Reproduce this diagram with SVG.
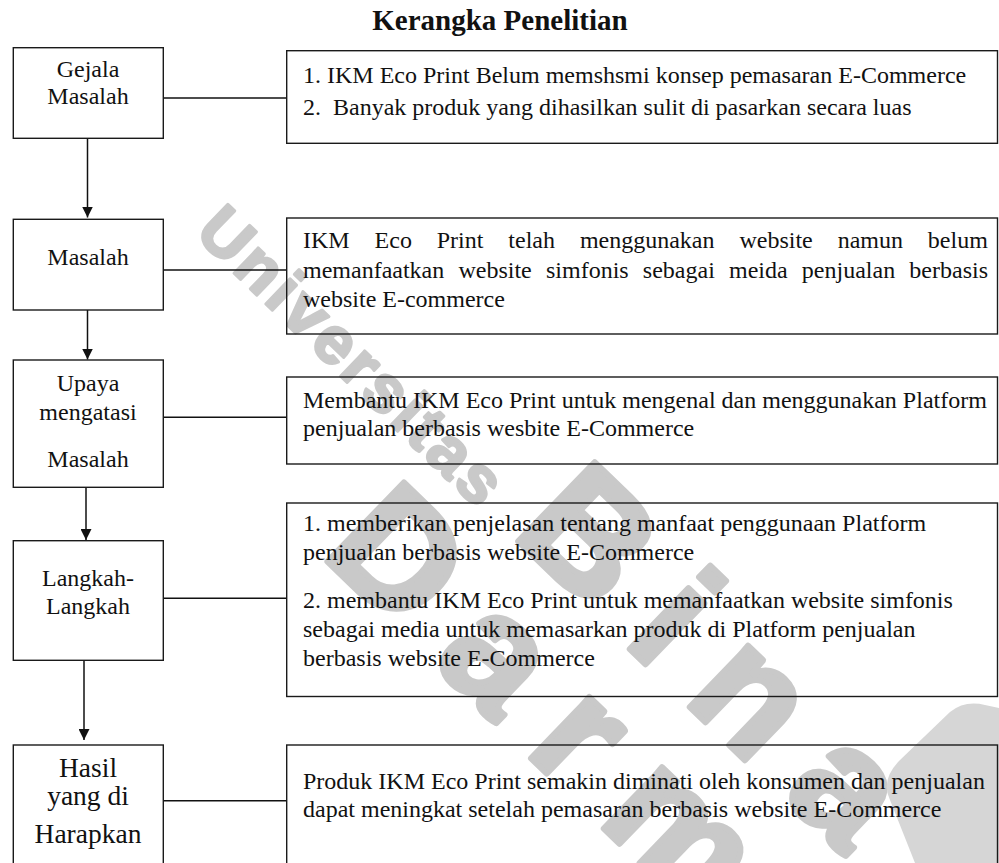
<svg xmlns="http://www.w3.org/2000/svg" width="999" height="863" viewBox="0 0 999 863">
<style>
.bg{fill:#ffffff}
.box{fill:none;stroke:#1a1a1a;stroke-width:1.4}
.t{font-family:"Liberation Serif","Times New Roman",serif;font-size:24px;fill:#111111}
.c{text-anchor:middle}
.big{font-size:27.5px}
.title{font-family:"Liberation Serif","Times New Roman",serif;font-size:29px;font-weight:bold;fill:#111111;text-anchor:middle}
.conn{stroke:#111111;stroke-width:1.5;fill:none}
.wm{font-family:"Liberation Sans",Arial,sans-serif;font-weight:bold;fill:#c9c9c9;stroke:#c9c9c9;stroke-linejoin:round;stroke-linecap:round}
</style>
<defs>
<marker id="ah" viewBox="0 0 10 10" refX="10" refY="5" markerWidth="11" markerHeight="11" markerUnits="userSpaceOnUse" orient="auto">
<path d="M0,0 L10,5 L0,10 Z" fill="#111111"/>
</marker>
</defs>
<rect class="bg" x="0" y="0" width="999" height="863"/>

<g id="watermark">
<text class="wm" transform="translate(193.5,234.2) rotate(44)" x="0" y="0" font-size="66" letter-spacing="4" stroke-width="3">Universitas</text>
<text class="wm" transform="translate(510.6,534) rotate(44)" x="0" y="0" font-size="160" letter-spacing="39" stroke-width="6">Bina</text>
<text class="wm" transform="translate(319.7,554.2) rotate(44)" x="0" y="0" font-size="160" letter-spacing="39" stroke-width="6">Darma</text>
<path d="M890 800 Q880 780 900 760 L950 712 Q965 700 985 705 L999 708 L999 863 L915 863 Z" fill="#d6d6d6"/>
</g>

<text class="title" x="500" y="30">Kerangka Penelitian</text>

<g id="connectors">
<path class="conn" d="M87.5 138.3 V217.5" marker-end="url(#ah)"/>
<path class="conn" d="M87.5 310 V359.5" marker-end="url(#ah)"/>
<path class="conn" d="M86 487.3 V540" marker-end="url(#ah)"/>
<path class="conn" d="M84 660.3 V740" marker-end="url(#ah)"/>
<path class="conn" d="M163.3 98 H286.7"/>
<path class="conn" d="M163.3 270 H286.7"/>
<path class="conn" d="M163.3 417.3 H286.7"/>
<path class="conn" d="M163.3 598.3 H286.7"/>
<path class="conn" d="M163.3 800.7 H286.7"/>
</g>

<g id="gejala-masalah">
<rect class="box" x="13.3" y="47.7" width="150" height="90.6"/>
<text class="t c" x="88" y="77">Gejala</text>
<text class="t c" x="88" y="104">Masalah</text>
</g>
<g id="gejala-masalah-isi">
<rect class="box" x="286.7" y="50.7" width="710.8" height="92.6"/>
<text class="t" x="303" y="83">1. IKM Eco Print Belum memshsmi konsep pemasaran E-Commerce</text>
<text class="t" x="303" y="115" xml:space="preserve">2.  Banyak produk yang dihasilkan sulit di pasarkan secara luas</text>
</g>

<g id="masalah">
<rect class="box" x="13.3" y="219.3" width="150" height="90.7"/>
<text class="t c" x="88" y="265">Masalah</text>
</g>
<g id="masalah-isi">
<rect class="box" x="286.7" y="218" width="710.8" height="116"/>
<text class="t" x="303" y="248" word-spacing="18.9">IKM Eco Print telah menggunakan website namun belum</text>
<text class="t" x="303" y="278" word-spacing="8.2">memanfaatkan website simfonis sebagai meida penjualan berbasis</text>
<text class="t" x="303" y="307">website E-commerce</text>
</g>

<g id="upaya">
<rect class="box" x="13.3" y="360" width="150" height="127.3"/>
<text class="t c" x="88" y="391">Upaya</text>
<text class="t c" x="88" y="420">mengatasi</text>
<text class="t c" x="88" y="467">Masalah</text>
</g>
<g id="upaya-isi">
<rect class="box" x="286.7" y="377" width="710.8" height="87"/>
<text class="t" x="303" y="408">Membantu IKM Eco Print untuk mengenal dan menggunakan Platform</text>
<text class="t" x="303" y="436">penjualan berbasis wesbite E-Commerce</text>
</g>

<g id="langkah">
<rect class="box" x="13.3" y="540.7" width="150" height="119.6"/>
<text class="t c" x="88" y="586">Langkah-</text>
<text class="t c" x="88" y="614">Langkah</text>
</g>
<g id="langkah-isi">
<rect class="box" x="286.7" y="503" width="710.8" height="193.5"/>
<text class="t" x="303" y="531">1. memberikan penjelasan tentang manfaat penggunaan Platform</text>
<text class="t" x="303" y="560">penjualan berbasis website E-Commerce</text>
<text class="t" x="303" y="608">2. membantu IKM Eco Print untuk memanfaatkan website simfonis</text>
<text class="t" x="303" y="637">sebagai media untuk memasarkan produk di Platform penjualan</text>
<text class="t" x="303" y="666">berbasis website E-Commerce</text>
</g>

<g id="hasil">
<rect class="box" x="13.3" y="745" width="150" height="130"/>
<text class="t c big" x="88" y="777">Hasil</text>
<text class="t c big" x="88" y="805">yang di</text>
<text class="t c big" x="88" y="843">Harapkan</text>
</g>
<g id="hasil-isi">
<rect class="box" x="286.7" y="745" width="710.8" height="130"/>
<text class="t" x="303" y="789">Produk IKM Eco Print semakin diminati oleh konsumen dan penjualan</text>
<text class="t" x="303" y="817">dapat meningkat setelah pemasaran berbasis website E-Commerce</text>
</g>
</svg>
